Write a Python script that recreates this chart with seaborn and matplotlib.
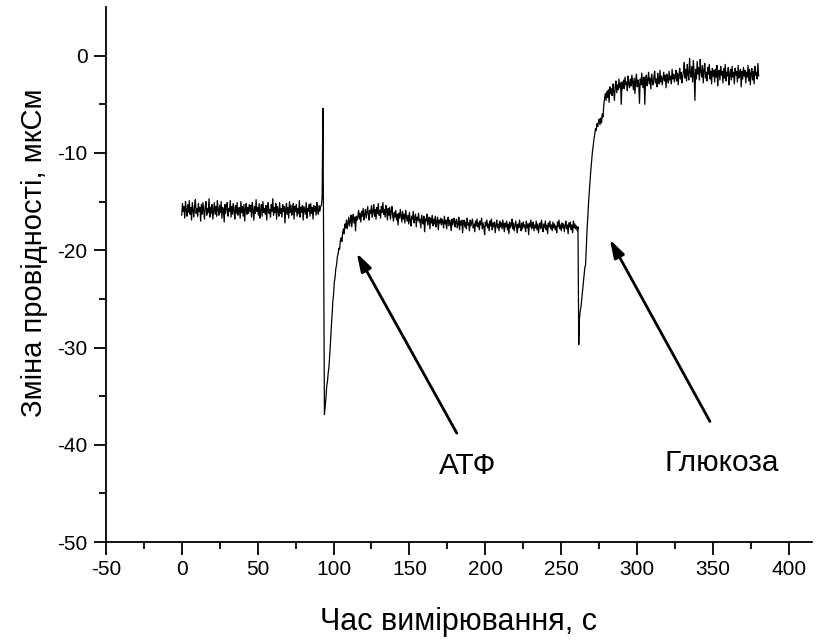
import numpy as np
import pandas as pd
import matplotlib
matplotlib.use("Agg")
import matplotlib.pyplot as plt
import seaborn as sns

# ---- data (0.5 s sampling) ----
STEP = 0.5
baseline_start = 0.0
baseline = [
    -16.4, -15.2, -16.0, -15.5, -16.7, -15.0, -15.9, -16.5, -15.3, -16.1,
    -14.9, -16.3, -15.6, -16.9, -15.1, -15.8, -16.6, -15.4, -14.8, -16.2,
    -15.7, -16.5, -15.2, -16.0, -15.6, -17.0, -15.3, -16.3, -15.1, -15.9,
    -16.8, -15.5, -15.0, -16.4, -15.7, -16.1, -14.7, -16.6, -15.6, -16.2,
    -15.3, -16.8, -15.9, -15.1, -16.3, -15.5, -16.5, -14.9, -15.8, -16.4,
    -15.4, -16.1, -15.0, -16.7, -15.6, -15.9, -17.1, -15.3, -16.2, -15.5,
    -15.1, -16.5, -15.7, -16.0, -14.9, -16.6, -15.5, -16.3, -15.2, -15.9,
    -16.8, -15.4, -16.2, -15.1, -16.4, -15.7, -15.6, -16.7, -15.0, -16.1,
    -15.5, -16.5, -15.3, -17.0, -15.7, -15.2, -16.3, -15.6, -16.2, -15.3,
    -16.0, -15.4, -16.6, -15.1, -15.8, -16.9, -15.5, -16.2, -14.8, -16.0,
    -15.6, -16.4, -15.2, -16.7, -15.8, -15.3, -16.5, -15.0, -16.1, -15.7,
    -16.3, -15.4, -16.9, -15.6, -15.1, -16.2, -15.8, -16.6, -15.3, -16.0,
    -14.7, -16.4, -15.6, -16.1, -15.2, -16.8, -15.5, -15.9, -16.5, -15.1,
    -16.2, -15.7, -16.6, -15.3, -16.0, -15.5, -17.2, -15.8, -15.2, -16.3,
    -15.6, -16.7, -15.0, -16.1, -15.4, -16.4, -15.9, -15.2, -16.8, -15.5,
    -16.0, -15.3, -16.5, -15.7, -16.2, -14.9, -16.6, -15.6, -16.1, -15.4,
    -16.9, -15.5, -15.9, -16.3, -15.1, -16.7, -15.7, -16.0, -15.3, -16.5,
    -15.2, -16.2, -15.6, -16.8, -15.4, -16.0, -15.5, -16.4, -15.1, -15.9,
    -16.3, -15.4, -16.0, -15.5,
]
atp_start = 92.0
atp_response = [
    -15.4, -14.6, -5.4, -20.0, -36.9, -36.0, -35.2, -34.0, -33.5, -32.6,
    -32.0, -30.8, -29.5, -28.0, -26.8, -25.3, -24.6, -23.3, -22.8, -21.9,
    -21.5, -20.7, -20.4, -19.8, -19.9, -19.0, -18.7, -19.1, -18.2, -17.8,
    -18.3, -17.3, -17.7, -16.9, -17.8, -17.2, -16.6, -17.5, -17.0, -16.4,
    -17.6, -16.8, -16.3, -17.2, -16.6, -18.0, -16.5, -16.9,
]
plateau_start = 116.0
plateau = [
    -16.6, -15.9, -16.8, -16.2, -17.1, -16.0, -16.5, -15.7, -16.9, -16.3,
    -15.8, -16.7, -16.1, -15.5, -16.4, -16.9, -15.9, -16.2, -15.4, -16.6,
    -16.0, -15.3, -16.5, -15.8, -16.8, -15.6, -16.2, -15.2, -16.4, -15.9,
    -16.7, -15.5, -16.1, -15.1, -16.3, -15.8, -16.6, -15.4, -16.0, -16.9,
    -15.7, -16.4, -15.6, -16.8, -16.0, -15.5, -16.5, -17.0, -16.1, -16.6,
    -15.9, -16.9, -16.3, -17.4, -16.2, -16.7, -15.8, -16.5, -17.1, -16.0,
    -16.8, -16.3, -17.2, -15.9, -16.6, -17.0, -16.4, -17.3, -16.1, -16.9,
    -17.5, -16.5, -16.8, -16.0, -17.2, -16.7, -16.3, -17.6, -16.6, -16.9,
    -16.2, -17.1, -16.8, -17.7, -16.4, -16.9, -17.3, -16.5, -18.1, -16.8,
    -17.0, -16.3, -17.4, -16.9, -16.6, -17.8, -16.7, -17.2, -16.4, -17.5,
    -16.8, -17.3, -16.5, -17.6, -17.0, -16.6, -17.9, -16.9, -17.2, -16.7,
    -17.4, -16.8, -17.1, -17.7, -16.5, -17.3, -16.9, -17.8, -17.0, -16.6,
    -17.5, -16.9, -17.2, -18.0, -16.8, -17.4, -17.0, -16.7, -17.6, -17.1,
    -16.8, -17.7, -17.3, -16.6, -17.9, -17.0, -17.4, -16.9, -18.2, -17.2,
    -16.9, -17.6, -17.1, -17.8, -16.7, -17.4, -17.2, -18.0, -16.9, -17.5,
    -17.1, -16.8, -17.7, -17.3, -18.1, -17.0, -17.5, -16.8, -17.6, -17.2,
    -17.9, -17.0, -17.4, -16.7, -17.8, -17.2, -17.6, -18.4, -17.1, -17.5,
    -16.9, -17.7, -17.3, -18.0, -17.0, -17.5, -16.8, -17.9, -17.2, -17.6,
    -17.1, -18.2, -17.4, -16.9, -17.7, -17.3, -18.0, -17.0, -17.6, -17.2,
    -17.8, -16.9, -17.5, -18.1, -17.2, -17.6, -17.0, -17.9, -17.3, -18.3,
    -17.1, -17.7, -17.4, -16.8, -17.8, -17.2, -18.0, -17.5, -17.0, -17.6,
    -18.2, -17.3, -17.7, -16.9, -17.5, -18.0, -17.2, -17.8, -17.1, -17.6,
    -17.4, -18.1, -17.0, -17.7, -17.3, -18.4, -17.2, -17.6, -16.9, -17.8,
    -17.5, -17.1, -18.0, -17.4, -17.7, -17.0, -17.9, -17.3, -18.2, -17.5,
    -17.2, -17.8, -16.9, -17.6, -18.1, -17.3, -17.7, -17.0, -17.9, -17.4,
    -18.3, -17.2, -17.6, -17.0, -17.8, -17.4, -18.0, -17.1, -17.7, -17.3,
    -17.9, -17.5, -18.2, -17.1, -17.6, -16.9, -17.8, -17.4, -18.0, -17.2,
    -17.7, -17.3, -18.1, -17.5, -17.0, -17.8, -17.4, -18.3, -17.2, -17.6,
    -17.1, -17.9, -17.4, -18.2, -17.0, -17.7, -17.3, -17.8,
]
glucose_start = 260.0
glucose_response = [
    -17.5, -18.0, -17.6, -29.7, -27.0, -26.2, -25.8, -25.0, -24.2, -23.3,
    -22.6, -21.8, -21.5, -19.6, -17.8, -16.5, -15.0, -13.9, -12.9, -11.7,
    -10.8, -9.9, -9.3, -8.6, -8.1, -7.5, -7.7, -7.0, -7.3, -6.8,
    -6.5, -7.1, -6.4, -6.9, -6.0, -6.3, -5.1, -4.4, -3.9, -4.6,
    -3.7, -4.3, -3.5, -4.8, -3.2, -3.9, -3.4, -4.1, -2.9, -3.6,
    -4.6, -3.1, -2.6, -3.8, -3.0, -3.5, -2.4, -3.3, -2.8, -5.0,
    -2.7, -3.4,
]
final_start = 291.0
final = [
    -2.5, -3.4, -2.2, -3.0, -2.7, -3.6, -2.1, -2.9, -3.3, -2.4,
    -3.1, -2.0, -2.8, -3.5, -2.3, -3.9, -2.6, -1.9, -3.2, -2.5,
    -2.9, -4.9, -2.4, -3.0, -1.8, -2.7, -3.3, -2.2, -5.0, -2.6,
    -2.0, -3.1, -2.5, -1.7, -2.9, -2.3, -3.4, -1.9, -2.6, -3.0,
    -2.2, -1.6, -2.8, -2.4, -3.2, -1.8, -2.5, -2.9, -1.5, -2.7,
    -2.1, -3.0, -2.4, -1.7, -2.6, -2.0, -3.3, -1.9, -2.3, -2.8,
    -1.6, -2.5, -2.1, -2.9, -1.4, -2.4, -1.9, -2.7, -2.2, -1.5,
    -2.6, -1.8, -3.0, -2.0, -1.3, -2.4, -1.7, -2.8, -2.1, -1.6,
    -0.7, -2.3, -1.4, -2.6, -0.9, -1.9, -2.5, -0.3, -1.7, -2.2,
    -1.1, -2.7, -0.5, -1.8, -4.6, -1.4, -2.4, -0.6, -1.9, -1.2,
    -2.5, -0.4, -1.6, -2.2, -1.0, -2.8, -1.5, -0.8, -2.3, -1.7,
    -2.6, -1.2, -1.9, -0.9, -2.4, -1.6, -2.9, -1.3, -2.1, -1.5,
    -2.7, -1.4, -2.2, -1.0, -3.1, -1.8, -1.5, -2.5, -1.1, -2.0,
    -1.6, -2.8, -1.3, -2.3, -0.9, -2.6, -1.7, -2.1, -1.2, -3.0,
    -1.9, -1.4, -2.5, -1.1, -2.2, -1.7, -2.9, -1.3, -2.0, -1.6,
    -2.7, -1.0, -2.3, -1.8, -1.4, -3.2, -1.6, -2.4, -1.2, -2.1,
    -1.5, -2.8, -1.7, -2.2, -1.0, -2.6, -1.4, -3.0, -1.8, -1.3,
    -2.5, -1.6, -2.9, -1.1, -2.0, -1.7, -2.4, -0.8, -2.1,
]

segments = [(baseline_start, baseline), (atp_start, atp_response),
            (plateau_start, plateau), (glucose_start, glucose_response),
            (final_start, final)]
time_s = np.concatenate([s + STEP * np.arange(len(v)) for s, v in segments])
conductance = np.concatenate([np.asarray(v, float) for _, v in segments])

x_ticks = [-50, 0, 50, 100, 150, 200, 250, 300, 350, 400]
y_ticks = [-50, -40, -30, -20, -10, 0]
labels = ["АТФ", "Глюкоза"]

df = pd.DataFrame({"t": time_s, "g": conductance})

# ---- styling ----
sns.set_theme(style="ticks")
plt.rcParams["font.family"] = ["Liberation Sans", "DejaVu Sans"]
plt.rcParams["axes.unicode_minus"] = False
plt.rcParams["text.color"] = "black"

fig = plt.figure(figsize=(8.2, 6.4), dpi=100)
ax = fig.add_axes([0.129, 0.153, 0.861, 0.836])

sns.lineplot(data=df, x="t", y="g", color="black", linewidth=0.9,
             estimator=None, ax=ax)

ax.set_xlim(-50, 415)
ax.set_ylim(-50, 5)
ax.set_xticks(x_ticks)
ax.set_yticks(y_ticks)
ax.set_xticks(np.arange(-25, 415, 50), minor=True)
ax.set_yticks(np.arange(-45, 5, 10), minor=True)
ax.tick_params(axis="both", which="major", direction="out", length=9,
               width=1.3, labelsize=15, color="black", labelcolor="black", pad=4)
ax.tick_params(axis="both", which="minor", direction="out", length=5,
               width=1.3, color="black")
for side in ("top", "right"):
    ax.spines[side].set_visible(False)
for side in ("left", "bottom"):
    ax.spines[side].set_linewidth(1.3)
    ax.spines[side].set_color("black")

ax.set_xlabel("Час вимірювання, с", fontsize=22, labelpad=20, color="black")
ax.set_ylabel("Зміна провідності, мкСм", fontsize=21, color="black")
ax.yaxis.set_label_coords(-0.082, 0.54)

arrow_kw = dict(arrowstyle="-|>,head_length=0.9,head_width=0.28",
                color="black", lw=2.0, shrinkA=0, shrinkB=0)
ax.annotate("", xy=(115.3, -20.3), xytext=(181.2, -38.8), arrowprops=arrow_kw)
ax.annotate("", xy=(282.0, -18.9), xytext=(347.9, -37.6), arrowprops=arrow_kw)
ax.text(188.1, -42.2, labels[0], fontsize=21.5, ha="center", va="center",
        color="black")
ax.text(355.4, -41.9, labels[1], fontsize=21.5, ha="center", va="center",
        color="black")

fig.savefig("out.png", dpi=100)
